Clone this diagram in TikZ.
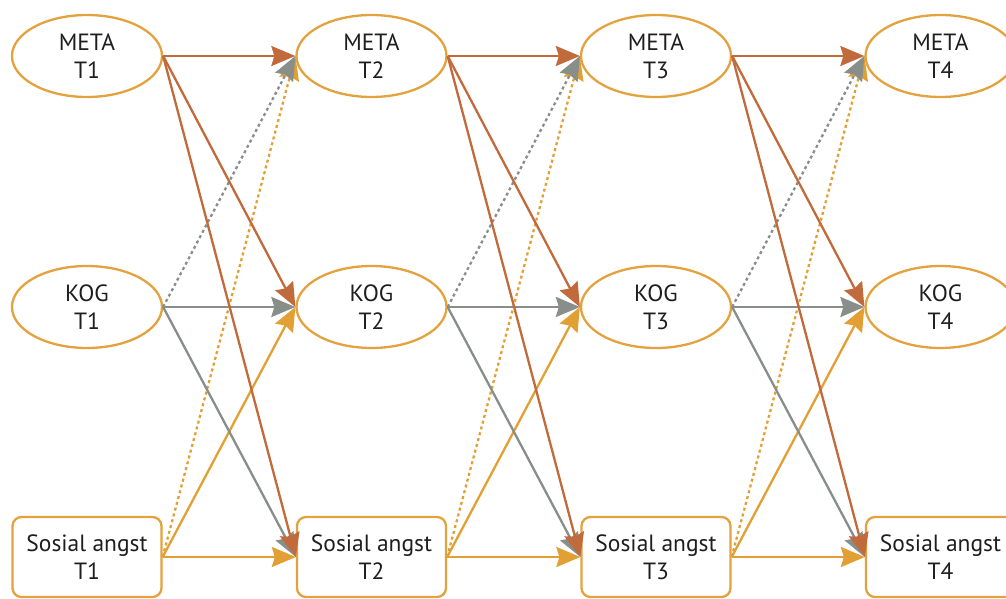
\documentclass[tikz,border=0pt]{standalone}
\usepackage{fontspec}
\setmainfont{PT Sans}
\usetikzlibrary{shapes.geometric,arrows.meta}
\definecolor{cbrown}{RGB}{193,106,60}
\definecolor{cgray}{RGB}{136,142,137}
\definecolor{corange}{RGB}{226,160,52}
\definecolor{cborder}{RGB}{227,162,62}
\definecolor{ctext}{RGB}{30,30,30}
\begin{document}
\begin{tikzpicture}[x=1pt,y=-1pt,
  lbl/.style={align=center,font=\fontsize{23.5}{28}\selectfont,text=ctext},
  ell/.style={lbl,ellipse,draw=cborder,line width=2.3pt,minimum width=150pt,minimum height=82pt,inner sep=0pt},
  box/.style={lbl,rectangle,rounded corners=9pt,draw=cborder,line width=2.3pt,minimum width=149pt,minimum height=80pt,inner sep=0pt},
  arr/.style={line width=2.3pt,-{Stealth[length=24pt,width=20pt,inset=3pt]}},
  dotline/.style={dash pattern=on 3pt off 3pt}
]
\useasboundingbox (0,0) rectangle (1006,599);
\foreach \i/\x in {1/87,2/371.5,3/656,4/940.5} {
  \node[ell] (m\i) at (\x,56) {META\\T\i};
  \node[ell] (k\i) at (\x,307) {KOG\\T\i};
  \node[box] (s\i) at (\x,557) {Sosial angst\\T\i};
}
\foreach \a/\b in {1/2,2/3,3/4} {
  \draw[arr,corange,dotline] (s\a.east) -- (m\b.west);
  \draw[arr,corange] (s\a.east) -- (k\b.west);
  \draw[arr,corange] (s\a.east) -- (s\b.west);
  \draw[arr,cgray,dotline] (k\a.east) -- (m\b.west);
  \draw[arr,cgray] (k\a.east) -- (k\b.west);
  \draw[arr,cgray] (k\a.east) -- (s\b.west);
  \draw[arr,cbrown] (m\a.east) -- (m\b.west);
  \draw[arr,cbrown] (m\a.east) -- (k\b.west);
  \draw[arr,cbrown] (m\a.east) -- (s\b.west);
}
\end{tikzpicture}
\end{document}
